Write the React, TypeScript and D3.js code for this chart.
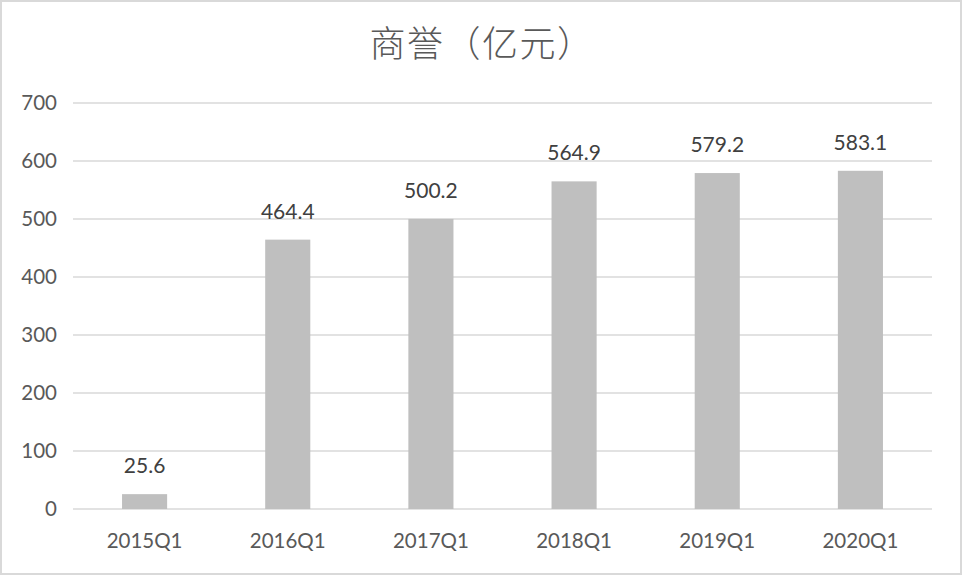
import React from "react";
import * as d3 from "d3";

const categories: string[] = ["2015Q1", "2016Q1", "2017Q1", "2018Q1", "2019Q1", "2020Q1"];
const values: number[] = [25.6, 464.4, 500.2, 564.9, 579.2, 583.1];
const yTicks: number[] = [0, 100, 200, 300, 400, 500, 600, 700];
const title = "商誉（亿元）";

const W = 962;
const H = 575;
const left = 73;
const right = 932;
const top = 103;
const bottom = 509;

export default function App() {
  const x = d3.scaleBand<string>().domain(categories).range([left, right]).paddingInner(0.685).paddingOuter(0.3425);
  const y = d3.scaleLinear().domain([0, 700]).range([bottom, top]);
  const latin = "Lato, 'Noto Sans', sans-serif";
  return (
    <div style={{ width: W, height: H }}>
      <style>{"body{margin:0}"}</style>
      <svg width={W} height={H} style={{ display: "block" }}>
        <rect x={0} y={0} width={W} height={H} fill="#ffffff" />
        <rect x={1} y={1} width={W - 2} height={H - 2} fill="none" stroke="#d9d9d9" strokeWidth={2} />
        <text x={482} y={57} textAnchor="middle" fontFamily="'Noto Sans CJK SC', sans-serif" fontWeight={300} fontSize={36} letterSpacing={1.5} fill="#595959">
          {title}
        </text>
        {yTicks.map((t) => (
          <g key={t}>
            <line x1={left} x2={right} y1={y(t)} y2={y(t)} stroke="#d9d9d9" strokeWidth={1.5} />
            <text x={57} y={y(t)} dy="0.36em" textAnchor="end" fontFamily={latin} fontSize={20.5} fill="#595959">
              {t}
            </text>
          </g>
        ))}
        {categories.map((c, i) => (
          <g key={c}>
            <rect x={x(c)} y={y(values[i])} width={x.bandwidth()} height={y(0) - y(values[i])} fill="#bfbfbf" />
            <text x={(x(c) as number) + x.bandwidth() / 2} y={y(values[i]) - 21} textAnchor="middle" fontFamily={latin} fontSize={21} fill="#404040">
              {values[i].toFixed(1)}
            </text>
            <text x={(x(c) as number) + x.bandwidth() / 2} y={548} textAnchor="middle" fontFamily={latin} fontSize={20.5} fill="#595959">
              {c}
            </text>
          </g>
        ))}
      </svg>
    </div>
  );
}
